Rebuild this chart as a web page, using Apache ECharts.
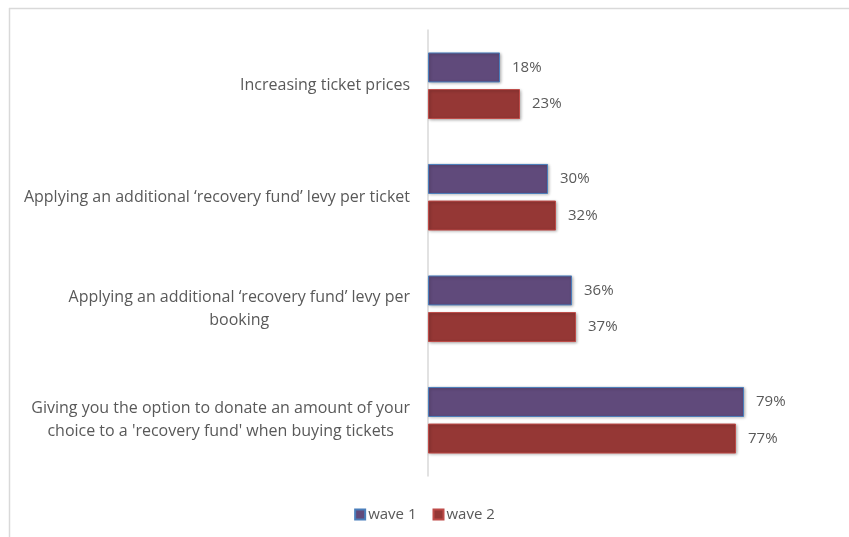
<!DOCTYPE html>
<html>
<head>
<meta charset="utf-8">
<script src="https://cdn.jsdelivr.net/npm/echarts@6/dist/echarts.min.js"></script>
<style>
  html, body { margin: 0; padding: 0; background: #fff; }
  #main { width: 849px; height: 537px; }
</style>
</head>
<body>
<div id="main"></div>
<script>
var categories = [
  'Increasing ticket prices',
  'Applying an additional \u2018recovery fund\u2019 levy per ticket',
  'Applying an additional \u2018recovery fund\u2019 levy per\nbooking',
  "Giving you the option to donate an amount of your\nchoice to a 'recovery fund' when buying tickets"
];
var wave1 = [18, 30, 36, 79];
var wave2 = [23, 32, 37, 77];

var myChart = echarts.init(document.getElementById('main'));

var labelStyle = {
  show: true,
  position: 'right',
  distance: 12,
  formatter: '{c}%',
  color: '#595959',
  fontSize: 15,
  fontFamily: 'Open Sans'
};

var option = {
  backgroundColor: '#fff',
  animation: false,
  textStyle: { fontFamily: 'Open Sans' },
  graphic: [
    { type: 'line', shape: { x1: 9, y1: 8.5, x2: 849, y2: 8.5 }, style: { stroke: '#d9d9d9', lineWidth: 1.5 } },
    { type: 'line', shape: { x1: 9.5, y1: 8, x2: 9.5, y2: 537 }, style: { stroke: '#d9d9d9', lineWidth: 1.5 } }
  ],
  grid: {
    left: 428,
    right: 21,
    top: 30,
    bottom: 61,
    containLabel: false
  },
  legend: {
    data: ['wave 1', 'wave 2'],
    bottom: 10,
    left: 'center',
    icon: 'rect',
    itemWidth: 10,
    itemHeight: 10,
    itemGap: 16,
    textStyle: { color: '#595959', fontSize: 15, fontFamily: 'Open Sans', padding: [0, 0, 0, -2] }
  },
  xAxis: {
    type: 'value',
    min: 0,
    max: 100,
    show: false
  },
  yAxis: {
    type: 'category',
    data: categories,
    inverse: true,
    axisLine: { show: true, lineStyle: { color: '#d9d9d9', width: 1.5 } },
    axisTick: { show: false },
    axisLabel: {
      color: '#595959',
      fontSize: 16,
      fontFamily: 'Open Sans',
      margin: 18,
      align: 'right',
      // lines centred inside the right-aligned block
      formatter: function (v) {
        return v.split('\n').map(function (s) { return '{c|' + s + '}'; }).join('\n');
      },
      rich: {
        c: {
          align: 'center',
          color: '#595959',
          fontSize: 16,
          fontFamily: 'Open Sans',
          lineHeight: 23
        }
      }
    }
  },
  series: [
    {
      name: 'wave 1',
      type: 'bar',
      data: wave1,
      barWidth: 30,
      barGap: '22%',
      itemStyle: {
        color: '#604a7b',
        borderColor: '#4a7ebb',
        borderWidth: 1,
        shadowColor: 'rgba(0,0,0,0.3)',
        shadowBlur: 3,
        shadowOffsetX: 1,
        shadowOffsetY: 1
      },
      label: labelStyle
    },
    {
      name: 'wave 2',
      type: 'bar',
      data: wave2,
      barWidth: 30,
      itemStyle: {
        color: '#953735',
        borderColor: '#be4b48',
        borderWidth: 1,
        shadowColor: 'rgba(0,0,0,0.3)',
        shadowBlur: 3,
        shadowOffsetX: 1,
        shadowOffsetY: 1
      },
      label: labelStyle
    }
  ]
};

myChart.setOption(option);
</script>
</body>
</html>
